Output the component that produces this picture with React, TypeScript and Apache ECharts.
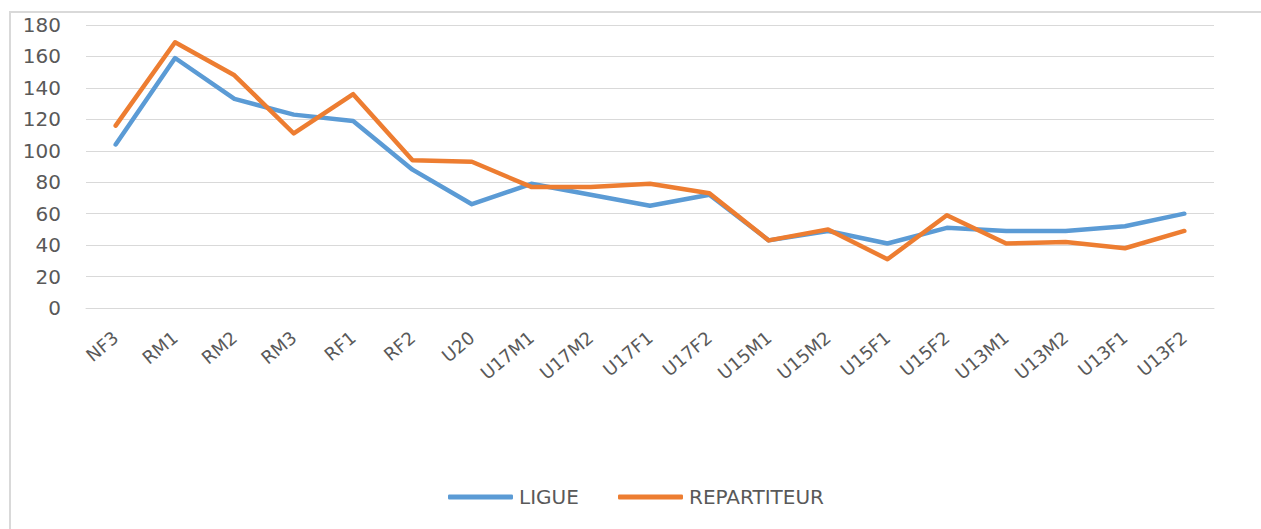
import React, { useEffect, useRef } from "react";
import * as echarts from "echarts";

const categories = ["NF3", "RM1", "RM2", "RM3", "RF1", "RF2", "U20", "U17M1", "U17M2", "U17F1", "U17F2", "U15M1", "U15M2", "U15F1", "U15F2", "U13M1", "U13M2", "U13F1", "U13F2"];
const ligue = [104, 159, 133, 123, 119, 88, 66, 79, 72, 65, 72, 43, 49, 41, 51, 49, 49, 52, 60];
const repartiteur = [116, 169, 148, 111, 136, 94, 93, 77, 77, 79, 73, 43, 50, 31, 59, 41, 42, 38, 49];
const seriesNames = ["LIGUE", "REPARTITEUR"];
const colors = ["#5B9BD5", "#ED7D31"];

export default function App() {
  const ref = useRef<HTMLDivElement>(null);
  useEffect(() => {
    document.body.style.margin = "0";
    const chart = echarts.init(ref.current!, null, { renderer: "svg" });
    const font = "DejaVu Sans";
    const legendBase = {
      top: 487,
      padding: 0,
      icon: "roundRect",
      itemWidth: 65,
      itemHeight: 5,
      textStyle: { fontFamily: font, fontSize: 20, color: "#595959", padding: [0, 0, 0, 1] },
    };
    chart.setOption({
      animation: false,
      backgroundColor: "#ffffff",
      graphic: [
        {
          type: "rect",
          shape: { x: 10, y: 12, width: 1400, height: 700 },
          style: { fill: "none", stroke: "#D9D9D9", lineWidth: 2 },
          silent: true,
        },
      ],
      grid: { left: 86, right: 47, top: 25, bottom: 221, containLabel: false },
      legend: [
        { ...legendBase, left: 448, data: [seriesNames[0]] },
        { ...legendBase, left: 618, data: [seriesNames[1]] },
      ],
      xAxis: {
        type: "category",
        data: categories,
        boundaryGap: true,
        axisLine: { show: true, lineStyle: { color: "#D9D9D9", width: 1 } },
        axisTick: { show: false },
        axisLabel: { rotate: 40, fontFamily: font, fontSize: 18, color: "#595959", margin: 27, interval: 0 },
      },
      yAxis: {
        type: "value",
        min: 0,
        max: 180,
        interval: 20,
        axisLine: { show: false },
        axisTick: { show: false },
        splitLine: { lineStyle: { color: "#D9D9D9", width: 1 } },
        axisLabel: { fontFamily: font, fontSize: 20, color: "#595959", margin: 25 },
      },
      series: [
        {
          name: seriesNames[0],
          type: "line",
          data: ligue,
          symbol: "none",
          color: colors[0],
          lineStyle: { width: 4.5, color: colors[0], cap: "round", join: "round" },
        },
        {
          name: seriesNames[1],
          type: "line",
          data: repartiteur,
          symbol: "none",
          color: colors[1],
          lineStyle: { width: 4.5, color: colors[1], cap: "round", join: "round" },
        },
      ],
    });
    return () => chart.dispose();
  }, []);
  return <div ref={ref} style={{ position: "fixed", left: 0, top: 0, width: 1261, height: 529 }} />;
}
